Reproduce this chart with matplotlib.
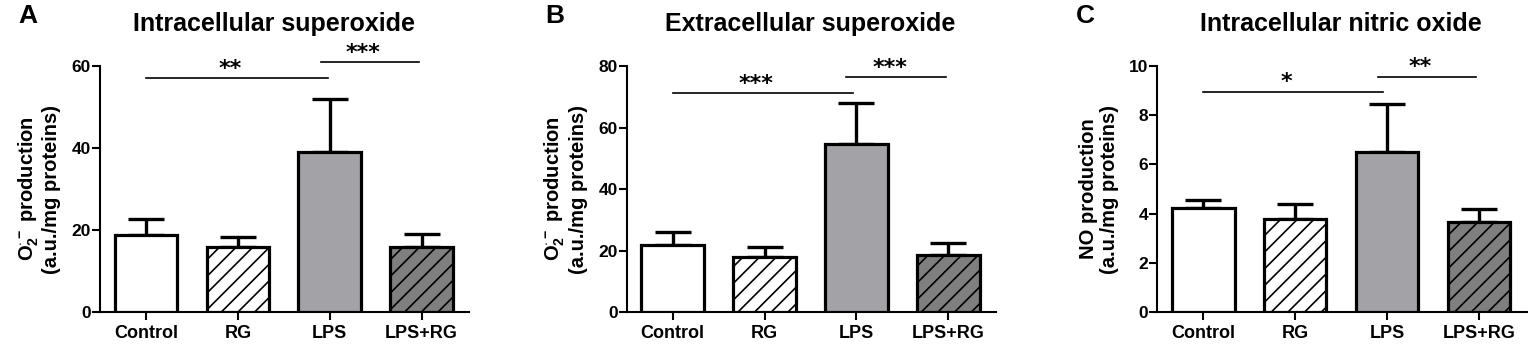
import matplotlib
matplotlib.use("Agg")
import matplotlib.pyplot as plt
import numpy as np

plt.rcParams["font.family"] = ["Liberation Sans", "DejaVu Sans"]
plt.rcParams["font.weight"] = "bold"
plt.rcParams["mathtext.fontset"] = "custom"
plt.rcParams["mathtext.rm"] = "Liberation Sans:bold"
plt.rcParams["mathtext.it"] = "Liberation Sans:bold"
plt.rcParams["mathtext.bf"] = "Liberation Sans:bold"
plt.rcParams["hatch.linewidth"] = 1.2

groups = ["Control", "RG", "LPS", "LPS+RG"]

intra_o2 = [18.8, 15.9, 39.1, 15.9]
intra_o2_err = [3.9, 2.4, 12.8, 3.1]

extra_o2 = [21.8, 17.9, 54.6, 18.5]
extra_o2_err = [4.3, 3.2, 13.5, 3.9]

intra_no = [4.24, 3.77, 6.52, 3.67]
intra_no_err = [0.31, 0.63, 1.95, 0.53]

# significance bars: (x start, x end, y, label)
sig_a = [(0, 1.98, 57.0, "**"), (1.9, 2.97, 60.9, "***")]
sig_b = [(0, 1.96, 71.1, "***"), (1.89, 2.98, 76.3, "***")]
sig_c = [(0, 1.95, 8.95, "*"), (1.9, 2.97, 9.57, "**")]

face = ["white", "white", "#a2a2a7", "#7f7f7f"]
hatch = [None, "//", None, "//"]

panels = [
    ("A", "Intracellular superoxide", intra_o2, intra_o2_err, sig_a, 60, [0, 20, 40, 60],
     "O$_2^{\\cdot-}$ production\n(a.u./mg proteins)", 0.0651, 0.1785),
    ("B", "Extracellular superoxide", extra_o2, extra_o2_err, sig_b, 80, [0, 20, 40, 60, 80],
     "O$_2^{\\cdot-}$ production\n(a.u./mg proteins)", 0.408, 0.5273),
    ("C", "Intracellular nitric oxide", intra_no, intra_no_err, sig_c, 10, [0, 2, 4, 6, 8, 10],
     "NO production\n(a.u./mg proteins)", 0.7535, 0.8730),
]

fig = plt.figure(figsize=(15.36, 3.44), dpi=100)

for letter, title, vals, errs, sigs, ymax, yticks, ylab, left, tx in panels:
    ax = fig.add_axes([left, 0.093, 0.2405, 0.715])
    x = np.arange(len(groups))
    ax.errorbar(x, vals, yerr=[np.zeros(len(vals)), errs], fmt="none", ecolor="black",
                elinewidth=2.4, capsize=13, capthick=2.4, zorder=2)
    ax.bar(x, vals, width=0.68, color=face, hatch=hatch, edgecolor="black",
           linewidth=2.3, zorder=3)
    for x0, x1, y, lab in sigs:
        ax.plot([x0, x1], [y, y], color="black", lw=1.2, clip_on=False)
        ax.annotate(lab, ((x0 + x1) / 2 - 0.07, y), xytext=(0, 7), textcoords="offset points",
                    ha="center", va="center", fontsize=16, fontweight="bold",
                    family="DejaVu Sans", annotation_clip=False)
    ax.set_xlim(-0.5, 3.52)
    ax.set_ylim(0, ymax)
    ax.set_yticks(yticks)
    ax.set_xticks(x)
    ax.set_xticklabels(groups, fontsize=13, fontweight="bold")
    ax.tick_params(axis="y", labelsize=12.5, length=5.5, width=1.5, pad=1)
    ax.tick_params(axis="x", length=5.5, width=1.5, pad=4)
    for s in ["top", "right"]:
        ax.spines[s].set_visible(False)
    for s in ["left", "bottom"]:
        ax.spines[s].set_linewidth(1.5)
    ax.set_ylabel(ylab, fontsize=14.5, fontweight="bold", linespacing=1.1)
    ax.yaxis.set_label_coords(-0.105, 0.5)
    fig.text(tx, 1 - 24 / 344, title, ha="center", va="center", fontsize=18, fontweight="bold")
    fig.text(left - 0.047, 1 - 16 / 344, letter, ha="center", va="center", fontsize=19,
             fontweight="bold")

fig.savefig("out.png", dpi=100)
